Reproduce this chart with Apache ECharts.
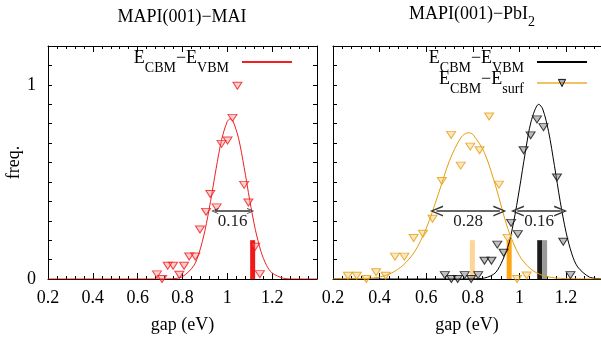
<!DOCTYPE html>
<html>
<head>
<meta charset="utf-8">
<script src="https://cdn.jsdelivr.net/npm/echarts@6/dist/echarts.min.js"></script>
<style>
html, body { margin: 0; padding: 0; background: #fff; }
#chart { width: 601px; height: 339px; }
</style>
</head>
<body>
<div id="chart"></div>
<script>
// left panel: MAPI(001)-MAI
var maiPoints = [[0.686,0.024],[0.709,0],[0.734,0.068],[0.758,0.068],[0.786,0.022],[0.807,0.068],
  [0.830,0.116],[0.857,0.116],[0.878,0.255],[0.905,0.346],[0.924,0.438],[0.952,0.369],[0.974,0.696],
  [1.001,0.713],[1.023,0.83],[1.045,0.995],[1.075,0.485],[1.094,0.394],[1.124,0.166],[1.145,0.025]];
var maiFit = [[0.2,0],[0.6,0],[0.7,0],[0.75,0.001],[0.8,0.012],[0.85,0.068],[0.875,0.138],[0.9,0.249],
  [0.925,0.399],[0.95,0.569],[0.975,0.72],[1.0,0.812],[1.013,0.825],[1.025,0.814],[1.05,0.725],
  [1.075,0.575],[1.1,0.405],[1.125,0.254],[1.15,0.142],[1.175,0.07],[1.2,0.031],[1.25,0.004],[1.3,0],[1.4,0]];
var maiBars = [[1.113,0.2]];
var maiArrow = [0.944, 1.104, 0.35, '0.16'];

// right panel: MAPI(001)-PbI2
var gapPoints = [[0.680,0.02],[0.708,0],[0.735,0],[0.765,0.02],[0.793,0],[0.823,0.02],[0.850,0.094],
  [0.880,0.094],[0.905,0.177],[0.932,0.135],[0.964,0.289],[0.993,0.231],[1.018,0.663],[1.048,0.74],
  [1.075,0.822],[1.103,0.782],[1.161,0.523],[1.188,0.192],[1.219,0.02]];
var gapFit = [[0.2,0],[0.75,0],[0.8,0.001],[0.85,0.005],[0.9,0.036],[0.95,0.164],[0.975,0.293],[1.0,0.464],
  [1.025,0.651],[1.05,0.811],[1.083,0.9],[1.1,0.875],[1.125,0.76],[1.15,0.585],[1.175,0.399],[1.2,0.241],
  [1.225,0.129],[1.25,0.062],[1.3,0.01],[1.35,0.001]];
var surfPoints = [[0.264,0.017],[0.302,0.017],[0.343,0],[0.385,0.035],[0.426,0.017],[0.466,0.115],
  [0.506,0.115],[0.546,0.211],[0.586,0.233],[0.627,0.31],[0.667,0.505],[0.707,0.742],[0.748,0.584],
  [0.789,0.682],[0.829,0.663],[0.870,0.837],[0.912,0.486],[0.949,0.212],[0.990,0],[1.031,0.018]];
var surfFit = [[0.2,0],[0.3,0.001],[0.35,0.003],[0.4,0.01],[0.45,0.03],[0.5,0.07],[0.55,0.14],[0.6,0.26],
  [0.65,0.43],[0.7,0.61],[0.75,0.73],[0.78,0.753],[0.8,0.745],[0.85,0.65],[0.9,0.47],[0.95,0.26],
  [1.0,0.12],[1.05,0.05],[1.1,0.018],[1.15,0.006],[1.2,0.002],[1.35,0]];
var pbiBars = [[0.798,0.2],[0.956,0.2],[1.087,0.2],[1.108,0.2]];
var surfArrow = [0.644, 0.916, 0.35, '0.28'];
var gapArrow = [0.991, 1.177, 0.35, '0.16'];

var serif = 'Liberation Serif';
var pbiBarColors = ['#fdd596', '#ffa514', '#1c1c1c', '#9a9a9a'];
var chevron = 'path://M0,20 L10,0 L20,20 L17,20 L10,5 L3,20 Z';

var chart = echarts.init(document.getElementById('chart'));

function xAxis(grid, pos, max) {
  var bottom = pos === 'bottom';
  return {
    type: 'value', gridIndex: grid, position: pos, min: 0.2, max: max, interval: 0.2,
    axisLine: { show: true, onZero: false, lineStyle: { color: '#000', width: 1 } },
    axisTick: { show: true, inside: true, length: 6, lineStyle: { color: '#000' } },
    minorTick: { show: true, splitNumber: 5, length: 3, lineStyle: { color: '#000' } },
    axisLabel: { show: bottom, showMaxLabel: false, margin: 10, color: '#000', fontFamily: serif, fontSize: 18 },
    splitLine: { show: false },
    name: bottom ? 'gap (eV)' : '', nameLocation: 'middle', nameGap: 37,
    nameTextStyle: { color: '#000', fontFamily: serif, fontSize: 18 }
  };
}
function yAxis(grid, pos, labels, name) {
  return {
    type: 'value', gridIndex: grid, position: pos, min: 0, max: 1.2, interval: 0.1,
    axisLine: { show: true, onZero: false, lineStyle: { color: '#000', width: 1 } },
    axisTick: { show: true, inside: true, length: 4, lineStyle: { color: '#000' } },
    axisLabel: {
      show: labels, margin: 12, color: '#000', fontFamily: serif, fontSize: 18,
      formatter: function (v) {
        if (Math.abs(v) < 1e-9) return '0';
        if (Math.abs(v - 1) < 1e-9) return '1';
        return '';
      }
    },
    splitLine: { show: false },
    name: name || '', nameLocation: 'middle', nameGap: 23,
    nameTextStyle: { color: '#000', fontFamily: serif, fontSize: 18 }
  };
}

function arrowLine(a, size) {
  return {
    silent: true, animation: false,
    symbol: [chevron, chevron], symbolSize: size,
    lineStyle: { color: '#333', width: 1.5, type: 'solid' },
    label: { show: true, position: 'insideMiddleBottom', distance: 2, formatter: a[3],
      color: '#222', fontFamily: serif, fontSize: 17 },
    data: [[{ coord: [a[0], a[2]] }, { coord: [a[1], a[2]] }]]
  };
}

var legendNames = {
  'MAI gap': '{m|E}{s|CBM}{m|\u2212E}{e|VBM}',
  'PbI2 gap': '{m|E}{s|CBM}{m|\u2212E}{e|VBM}',
  'PbI2 surf': '{m|E}{s|CBM}{m|\u2212E}{e|surf}'
};
var legendRich = {
  m: { fontFamily: serif, fontSize: 18, lineHeight: 26, verticalAlign: 'top', color: '#000' },
  s: { fontFamily: serif, fontSize: 14, lineHeight: 14, verticalAlign: 'bottom', color: '#000' },
  e: { fontFamily: serif, fontSize: 14, lineHeight: 14, verticalAlign: 'bottom', color: '#000', padding: [0, 8, 0, 0] }
};
function legend(names, right) {
  return {
    data: names, right: right, top: 49, padding: 0, orient: 'vertical', align: 'right',
    itemWidth: 50, itemHeight: 9, itemGap: -5, selectedMode: false,
    formatter: function (n) { return legendNames[n]; },
    textStyle: { fontFamily: serif, rich: legendRich }
  };
}
var noMark = { opacity: 0, borderWidth: 0 };

var triangle = { symbol: 'triangle', symbolRotate: 180, symbolSize: [9, 7] };

var option = {
  animation: false,
  backgroundColor: '#fff',
  textStyle: { fontFamily: serif, color: '#000' },
  title: [
    { text: 'MAPI(001)\u2212MAI', left: 182, top: 5, padding: 0, textAlign: 'center',
      textStyle: { fontFamily: serif, fontSize: 18, fontWeight: 'normal', color: '#000', lineHeight: 24 } },
    { text: '{m|MAPI(001)\u2212PbI}{s|2}', left: 472, top: 5, padding: 0, textAlign: 'center',
      textStyle: { fontFamily: serif, fontSize: 18, fontWeight: 'normal', color: '#000',
        rich: {
          m: { fontFamily: serif, fontSize: 18, lineHeight: 24, verticalAlign: 'top', color: '#000' },
          s: { fontFamily: serif, fontSize: 14, lineHeight: 14, verticalAlign: 'bottom', color: '#000' }
        } } }
  ],
  legend: [
    legend([{ name: 'MAI gap', itemStyle: noMark }], 308),
    legend([{ name: 'PbI2 gap', itemStyle: noMark }, { name: 'PbI2 surf',
      lineStyle: { color: '#f2c163', width: 2 },
      itemStyle: { color: 'rgba(110,110,110,0.55)', borderColor: '#111', borderWidth: 1 } }], 13)
  ],
  grid: [
    { left: 48, top: 46, right: 284, bottom: 60, show: false },
    { left: 333, top: 46, right: 0, bottom: 60, show: false }
  ],
  xAxis: [xAxis(0, 'bottom', 1.4), xAxis(0, 'top', 1.4), xAxis(1, 'bottom', 1.35), xAxis(1, 'top', 1.35)],
  yAxis: [yAxis(0, 'left', true, 'freq.'), yAxis(0, 'right', false), yAxis(1, 'left', false)],
  series: [
    { type: 'bar', xAxisIndex: 0, yAxisIndex: 0, barWidth: 5, z: 1,
      itemStyle: { color: '#f01818' }, data: maiBars },
    { name: 'MAI gap', type: 'line', xAxisIndex: 0, yAxisIndex: 0, data: maiFit, smooth: 0.3,
      symbol: 'none', clip: true, z: 3, lineStyle: { color: '#ee2020', width: 1 }, itemStyle: { color: '#ee2020' },
      markLine: arrowLine(maiArrow, [6, 7]) },
    Object.assign({ type: 'scatter', xAxisIndex: 0, yAxisIndex: 0, data: maiPoints, z: 4,
      itemStyle: { color: 'rgba(255,120,120,0.45)', borderColor: '#ee1c1c', borderWidth: 1 } }, triangle),

    { type: 'bar', xAxisIndex: 2, yAxisIndex: 2, barWidth: 5, z: 1,
      data: pbiBars.map(function (d, i) { return { value: d, itemStyle: { color: pbiBarColors[i] } }; }) },
    { name: 'PbI2 gap', type: 'line', xAxisIndex: 2, yAxisIndex: 2, data: gapFit, smooth: 0.3,
      symbol: 'none', clip: true, z: 3, lineStyle: { color: '#000', width: 1 }, itemStyle: { color: '#000' },
      markLine: arrowLine(gapArrow, [11, 13]) },
    { name: 'PbI2 surf', type: 'line', xAxisIndex: 2, yAxisIndex: 2, data: surfFit, smooth: 0.3,
      symbol: 'triangle', symbolRotate: 180, showSymbol: false, clip: true, z: 3,
      lineStyle: { color: '#e59d0c', width: 1 }, itemStyle: { color: '#e59d0c' },
      markLine: arrowLine(surfArrow, [11, 13]) },
    Object.assign({ type: 'scatter', xAxisIndex: 2, yAxisIndex: 2, data: surfPoints, z: 4,
      itemStyle: { color: 'rgba(245,190,90,0.45)', borderColor: '#e59d0c', borderWidth: 1 } }, triangle),
    Object.assign({ type: 'scatter', xAxisIndex: 2, yAxisIndex: 2, data: gapPoints, z: 4,
      itemStyle: { color: 'rgba(110,110,110,0.55)', borderColor: '#111', borderWidth: 1 } }, triangle)
  ]
};
chart.setOption(option);
</script>
</body>
</html>
